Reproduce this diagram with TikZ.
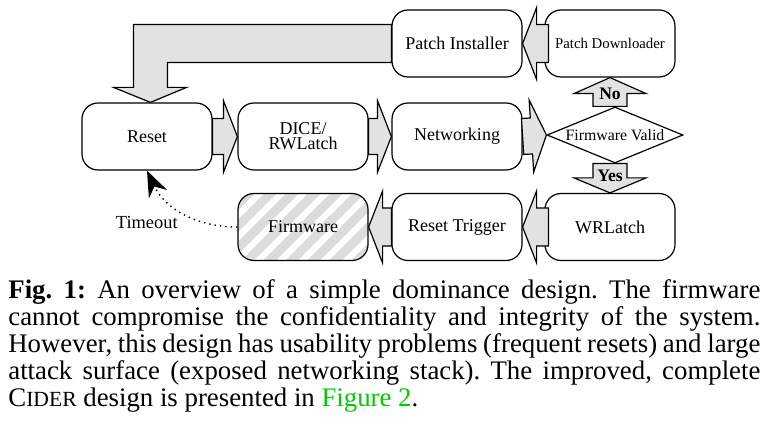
\documentclass[tikz,border=0pt]{standalone}
\usepackage{fontspec}
\setmainfont{Liberation Serif}
\usetikzlibrary{calc,shapes.geometric,arrows.meta}
\pgfdeclarelayer{bg}
\pgfsetlayers{bg,main}
\definecolor{linkgreen}{RGB}{0,205,0}
\definecolor{afill}{RGB}{226,226,226}
\definecolor{stripecol}{RGB}{220,220,220}
\tikzset{
  box/.style={draw, line width=0.6pt, rounded corners=8pt, minimum width=65pt,
    minimum height=33.5pt, fill=white, inner sep=1pt, font=\fontsize{9}{10}\selectfont},
  dia/.style={draw, line width=0.6pt, diamond, aspect=2.43, inner sep=0pt,
    minimum width=68pt, minimum height=28pt, fill=white, font=\fontsize{7.9}{9}\selectfont},
  arrowbody/.style={draw, line width=0.6pt, fill=afill, line join=miter},
  arrowlabel/.style={inner sep=0pt, font=\fontsize{8.8}{10}\bfseries\selectfont},
  hatched/.style={path picture={
    \foreach \k in {-6,...,6}{
      \draw[stripecol, line width=4.5pt]
        ($(path picture bounding box.center)+(\k*22,0)$) ++(-50pt,-50pt) -- ++(100pt,100pt);}}},
  timeline/.style={dotted, line width=0.7pt, -{Stealth[length=13pt,width=10pt]}},
}
% #1 start coordinate, #2 tip coordinate, #3 shaft half width, #4 head half width,
% #5 head length, #6 label
\newcommand\blockarrow[6]{%
  \coordinate (ba-h) at ($(#2)!#5!(#1)$);
  \draw[arrowbody] ($(#1)!#3!90:(#2)$) -- ($(ba-h)!#3!90:(#2)$) -- ($(ba-h)!#4!90:(#2)$)
    -- (#2) -- ($(ba-h)!#4!-90:(#2)$) -- ($(ba-h)!#3!-90:(#2)$) -- ($(#1)!#3!-90:(#2)$) -- cycle;
  \if\relax\detokenize{#6}\relax\else
    \node[arrowlabel] at ($(#1)!0.42!(#2)$) {#6};
  \fi
}
\begin{document}
\begin{tikzpicture}[x=0.5pt, y=-0.5pt]
\useasboundingbox (0,0) rectangle (770,427);

% boxes
\node[box] (reset) at (147,136.5) {Reset};
\node[box, align=center, font=\fontsize{9}{7.5}\selectfont] (dice) at (303,136.5) {DICE/\\RWLatch};
\node[box] (net) at (457,136.5) {Networking};
\node[box] (pi) at (457,43.5) {Patch Installer};
\node[box, font=\fontsize{7.4}{9}\selectfont] (pd) at (610,43.5) {Patch Downloader};
\node[dia] (fv) at (615,135) {Firmware Valid};
\node[box] (wr) at (610,227) {WRLatch};
\node[box] (rt) at (457,227) {Reset Trigger};
\node[box, hatched] (fw) at (303,227) {Firmware};

% big return arrow (behind the boxes)
\coordinate (bt) at ($(reset.north)+(3.5,0)$);
\begin{pgfonlayer}{bg}
\draw[arrowbody] ($(pi.west)+(0,-19)$) -| ($(bt)+(-17,-15)$) -- ++(-20,0) -- (bt)
  -- ++(36,-15) -- ++(-19,0) |- ($(pi.west)+(0,19)$) -- cycle;
\end{pgfonlayer}

% block arrows
\coordinate (s-pd) at ($(pd.west)+(4,0)$);
\blockarrow{s-pd}{pi.east}{9.5pt}{18pt}{7pt}{}
\blockarrow{reset.east}{dice.west}{9pt}{18pt}{7pt}{}
\blockarrow{dice.east}{net.west}{9pt}{18pt}{7pt}{}
\blockarrow{net.east}{fv.west}{9pt}{18pt}{7.5pt}{}
\coordinate (s-no) at (fv.north -| pd.south);
\blockarrow{s-no}{pd.south}{8.5pt}{18pt}{8pt}{No}
\coordinate (s-yes) at (fv.south -| wr.north);
\blockarrow{s-yes}{wr.north}{8.5pt}{18pt}{7.5pt}{Yes}
\coordinate (s-wr) at ($(wr.west)+(4,0)$);
\blockarrow{s-wr}{rt.east}{9.5pt}{18pt}{7pt}{}
\blockarrow{rt.west}{fw.east}{9.5pt}{18pt}{7pt}{}

% timeout
\node[font=\fontsize{9.2}{10}\selectfont, anchor=east, inner sep=0pt] (tol) at (178,222) {Timeout};
\draw[timeline] (fw.west) to[out=180,in=-65] (reset.south);

% caption
\node[anchor=base west, inner sep=0pt, text width=376pt, align=justify,
  font=\fontsize{13.4}{13.5}\selectfont\frenchspacing] (cap) at (8,298)
  {\textbf{Fig. 1:} An overview of a simple dominance design. The firmware\linebreak
   cannot compromise the confidentiality and integrity of the system.\linebreak
   However, this design has usability problems (frequent resets) and large\linebreak
   attack surface (exposed networking stack). The improved, complete\linebreak
   C{\fontsize{10.8}{13.5}\selectfont IDER} design is presented in \textcolor{linkgreen}{Figure 2}.};
\end{tikzpicture}
\end{document}
